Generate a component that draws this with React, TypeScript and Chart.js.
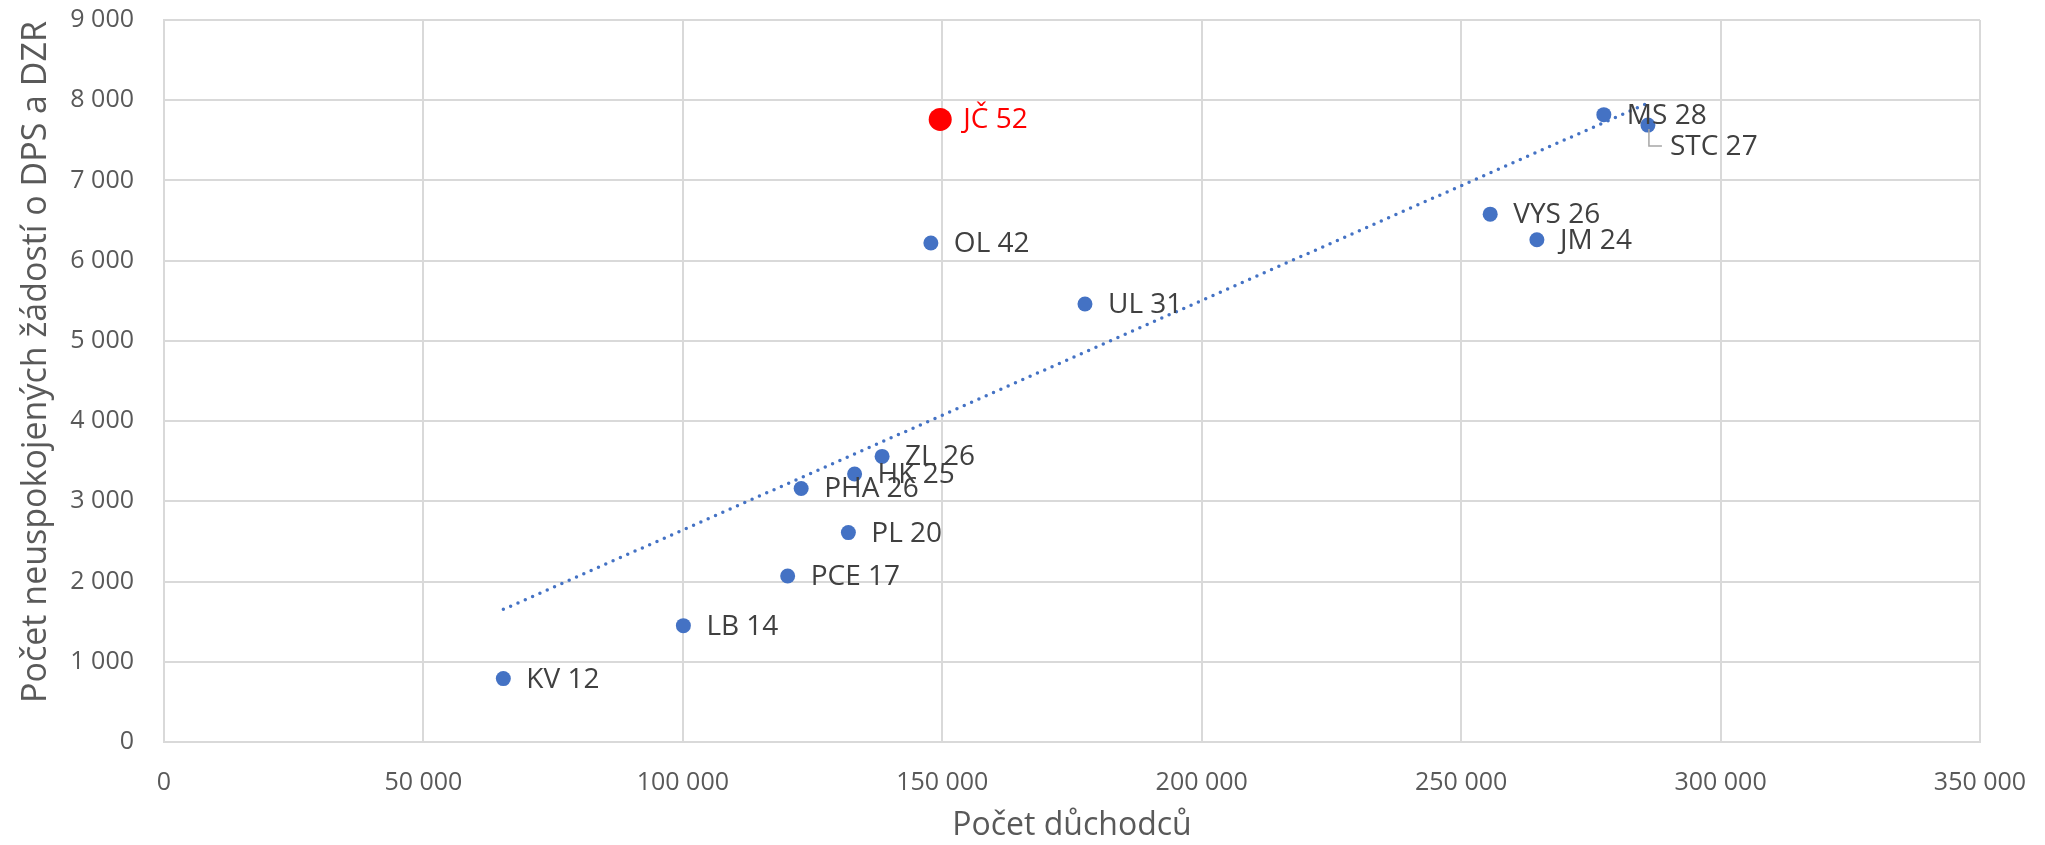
import React, { useEffect, useRef } from "react";
import { Chart, registerables } from "chart.js";

Chart.register(...registerables);

// ---- data ----
const regions = ["KV", "LB", "PCE", "PL", "PHA", "HK", "ZL", "JČ", "OL", "UL", "VYS", "JM", "MS", "STC"];
const pensioners = [65400, 100100, 120200, 131900, 122800, 133100, 138400, 149600, 147800, 177500, 255600, 264600, 277500, 286000];
const requests = [790, 1450, 2070, 2610, 3160, 3340, 3560, 7760, 6220, 5460, 6580, 6260, 7820, 7690];
const labelNumbers = [12, 14, 17, 20, 26, 25, 26, 52, 42, 31, 26, 24, 28, 27];
const highlighted = "JČ";
const leaderLabel = "STC";

const xTitle = "Počet důchodců";
const yTitle = "Počet neuspokojených žádostí o DPS a DZR";

const FONT = "'Open Sans', sans-serif";
const BLUE = "#4472C4";
const RED = "#FF0000";

const fmt = (v: number) => String(v).replace(/\B(?=(\d{3})+(?!\d))/g, " ");

// least-squares linear trendline over all points
function trend() {
  const n = pensioners.length;
  const mx = pensioners.reduce((a, b) => a + b, 0) / n;
  const my = requests.reduce((a, b) => a + b, 0) / n;
  let sxy = 0, sxx = 0;
  for (let i = 0; i < n; i++) {
    sxy += (pensioners[i] - mx) * (requests[i] - my);
    sxx += (pensioners[i] - mx) ** 2;
  }
  const b = sxy / sxx;
  const a = my - b * mx;
  const x0 = Math.min(...pensioners);
  const x1 = Math.max(...pensioners);
  return [
    { x: x0, y: a + b * x0 },
    { x: x1, y: a + b * x1 },
  ];
}

const labelPlugin = {
  id: "pointLabels",
  afterDatasetsDraw(chart: any) {
    const ctx = chart.ctx;
    const meta = chart.getDatasetMeta(1);
    ctx.save();
    ctx.font = `28px ${FONT}`;
    ctx.textBaseline = "middle";
    ctx.textAlign = "left";
    meta.data.forEach((pt: any, i: number) => {
      const text = `${regions[i]} ${labelNumbers[i]}`;
      ctx.fillStyle = regions[i] === highlighted ? RED : "#404040";
      if (regions[i] === leaderLabel) {
        ctx.strokeStyle = "#A6A6A6";
        ctx.lineWidth = 1.5;
        ctx.beginPath();
        ctx.moveTo(pt.x + 1, pt.y + 4);
        ctx.lineTo(pt.x + 1, pt.y + 21);
        ctx.lineTo(pt.x + 14, pt.y + 21);
        ctx.stroke();
        ctx.fillText(text, pt.x + 22, pt.y + 22);
      } else {
        ctx.fillText(text, pt.x + 23, pt.y + 1);
      }
    });
    // y axis title
    ctx.font = `34px ${FONT}`;
    ctx.fillStyle = "#595959";
    ctx.textAlign = "center";
    ctx.textBaseline = "middle";
    ctx.translate(36, 362);
    ctx.rotate(-Math.PI / 2);
    ctx.fillText(yTitle, 0, 0);
    ctx.restore();
  },
};

export default function App() {
  const ref = useRef<HTMLCanvasElement>(null);
  useEffect(() => {
    if (!ref.current) return;
    const points = pensioners.map((x, i) => ({ x, y: requests[i] }));
    const chart = new Chart(ref.current, {
      type: "scatter",
      data: {
        datasets: [
          {
            type: "line",
            data: trend(),
            borderColor: BLUE,
            borderWidth: 3.5,
            borderDash: [0, 8],
            borderCapStyle: "round",
            pointRadius: 0,
            fill: false,
            order: 2,
          } as any,
          {
            data: points,
            pointRadius: regions.map((r) => (r === highlighted ? 11.5 : 7.5)),
            pointBackgroundColor: regions.map((r) => (r === highlighted ? RED : BLUE)),
            pointBorderWidth: 0,
            borderWidth: 0,
            order: 1,
          },
        ],
      },
      options: {
        responsive: false,
        animation: false,
        layout: { padding: { top: 20, right: 65, left: 0, bottom: 0 } },
        plugins: { legend: { display: false }, tooltip: { enabled: false } },
        scales: {
          x: {
            type: "linear",
            min: 0,
            max: 350000,
            border: { color: "#D9D9D9", width: 2 },
            grid: { color: "#D9D9D9", lineWidth: 2, drawTicks: false },
            ticks: {
              stepSize: 50000,
              padding: 26,
              color: "#595959",
              font: { family: FONT, size: 25 },
              callback: (v: any) => fmt(v),
            },
            title: {
              display: true,
              text: xTitle,
              color: "#595959",
              font: { family: FONT, size: 32 },
              padding: { top: 0, bottom: 0 },
            },
            afterFit: (s: any) => {
              s.height = 103;
              s.paddingLeft = 0;
              s.paddingRight = 0;
            },
          },
          y: {
            type: "linear",
            min: 0,
            max: 9000,
            border: { color: "#D9D9D9", width: 2 },
            grid: { color: "#D9D9D9", lineWidth: 2, drawTicks: false },
            ticks: {
              stepSize: 1000,
              padding: 30,
              color: "#595959",
              font: { family: FONT, size: 25 },
              callback: (v: any) => fmt(v),
            },
            title: { display: false },
            afterFit: (s: any) => {
              s.width = 164;
              s.paddingTop = 0;
              s.paddingBottom = 0;
            },
          },
        },
      },
      plugins: [labelPlugin],
    });
    return () => chart.destroy();
  }, []);
  return (
    <div style={{ position: "absolute", left: 0, top: 0, width: 2045, height: 845, background: "#fff" }}>
      <canvas ref={ref} width={2045} height={845} style={{ display: "block" }} />
    </div>
  );
}
